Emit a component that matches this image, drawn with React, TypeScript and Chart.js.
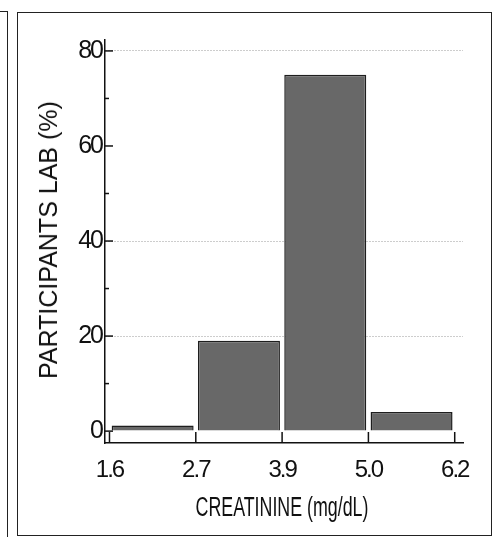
import React, { useEffect, useRef } from "react";
import { Chart, registerables } from "chart.js";

Chart.register(...registerables);

const binEdges = ["1.6", "2.7", "3.9", "5.0", "6.2"];
const percentages = [1.2, 19, 75, 4];
const yMajorTicks = [0, 20, 40, 60, 80];
const yMinorTicks = [10, 30, 50, 70];
const gridValues = [20, 40, 80];
const xTitle = "CREATININE (mg/dL)";
const yTitle = "PARTICIPANTS LAB (%)";

const SANS = "'Liberation Sans', Arial, sans-serif";

const tightText = {
  id: "tightText",
  beforeDraw(chart: any) {
    try {
      chart.ctx.letterSpacing = "-2px";
    } catch (e) {}
  },
};

const innerTicks = {
  id: "innerTicks",
  afterDraw(chart: any) {
    const { ctx, scales } = chart;
    const xs = scales.x;
    const ys = scales.y;
    ctx.save();
    ctx.strokeStyle = "#111";
    ctx.lineWidth = 1.5;
    const ax = xs.left;
    yMajorTicks.forEach((v) => {
      const py = ys.getPixelForValue(v);
      ctx.beginPath();
      ctx.moveTo(ax, py);
      ctx.lineTo(ax + 8, py);
      ctx.stroke();
    });
    yMinorTicks.forEach((v) => {
      const py = ys.getPixelForValue(v);
      ctx.beginPath();
      ctx.moveTo(ax, py);
      ctx.lineTo(ax + 4, py);
      ctx.stroke();
    });
    const ay = ys.bottom;
    binEdges.forEach((_, i) => {
      const px = xs.getPixelForValue(i);
      ctx.beginPath();
      ctx.moveTo(px, ay);
      ctx.lineTo(px, ay - 11);
      ctx.stroke();
    });
    ctx.restore();
  },
};

export default function App() {
  const ref = useRef<HTMLCanvasElement | null>(null);
  useEffect(() => {
    const prevMargin = document.body.style.margin;
    document.body.style.margin = "0";
    const canvas = ref.current!;
    const chart = new Chart(canvas, {
      type: "bar",
      data: {
        datasets: [
          {
            data: percentages.map((v, i) => ({ x: i + 0.5, y: v })),
            backgroundColor: "#686868",
            borderColor: "#1e1e1e",
            borderWidth: 1.5,
            barPercentage: 0.95,
            categoryPercentage: 1,
          },
        ],
      },
      options: {
        animation: false,
        responsive: false,
        layout: { padding: { left: 0, top: 40, right: 32, bottom: 0 } },
        plugins: { legend: { display: false }, tooltip: { enabled: false } },
        scales: {
          x: {
            type: "linear",
            min: -0.052,
            max: 4.096,
            offset: false,
            afterFit: (s: any) => {
              s.height = 94;
            },
            afterBuildTicks: (s: any) => {
              s.ticks = binEdges.map((_, i) => ({ value: i }));
            },
            grid: { display: false, offset: false },
            border: { display: true, color: "#111", width: 1.5 },
            ticks: {
              padding: 5,
              color: "#111",
              autoSkip: false,
              maxRotation: 0,
              font: { family: SANS, size: 24 },
              callback: (v: any) => binEdges[Math.round(Number(v))] ?? "",
            },
            title: { display: false },
          },
          y: {
            type: "linear",
            min: -2.5,
            max: 82.3,
            afterFit: (s: any) => {
              s.width = 105;
            },
            afterBuildTicks: (s: any) => {
              s.ticks = yMajorTicks.map((v) => ({ value: v }));
            },
            grid: {
              drawTicks: false,
              color: (c: any) =>
                c.tick && gridValues.includes(c.tick.value) ? "#9a9a9a" : "rgba(0,0,0,0)",
              lineWidth: 1,
            },
            border: { display: true, color: "#111", width: 1.5, dash: [1, 2] },
            ticks: {
              padding: 3,
              color: "#111",
              font: { family: SANS, size: 25 },
              callback: (v: any) => String(v),
            },
            title: { display: false },
          },
        },
      },
      plugins: [tightText, innerTicks],
    });
    return () => {
      chart.destroy();
      document.body.style.margin = prevMargin;
    };
  }, []);

  return (
    <div style={{ position: "absolute", left: 0, top: 0, width: 495, height: 537, background: "#fff", overflow: "hidden" }}>
      <div style={{ position: "absolute", left: 7, top: 11, width: 0, height: 526, borderLeft: "1.5px solid #222" }} />
      <div style={{ position: "absolute", left: 0, top: 11, width: 7, height: 0, borderTop: "1.5px solid #222" }} />
      <div style={{ position: "absolute", left: 17, top: 12, width: 473, height: 522, border: "1.5px solid #222" }} />
      <canvas ref={ref} width={495} height={537} style={{ position: "absolute", left: 0, top: 0 }} />
      <div
        style={{
          position: "absolute",
          left: 48,
          top: 240,
          transform: "translate(-50%, -50%) rotate(-90deg)",
          fontFamily: SANS,
          fontSize: 25,
          lineHeight: "30px",
          whiteSpace: "nowrap",
          color: "#111",
        }}
      >
        {yTitle}
      </div>
      <div
        style={{
          position: "absolute",
          left: 282,
          top: 507,
          transform: "translate(-50%, -50%) scaleX(0.66)",
          fontFamily: SANS,
          fontSize: 27,
          lineHeight: "30px",
          whiteSpace: "nowrap",
          color: "#111",
        }}
      >
        {xTitle}
      </div>
    </div>
  );
}
